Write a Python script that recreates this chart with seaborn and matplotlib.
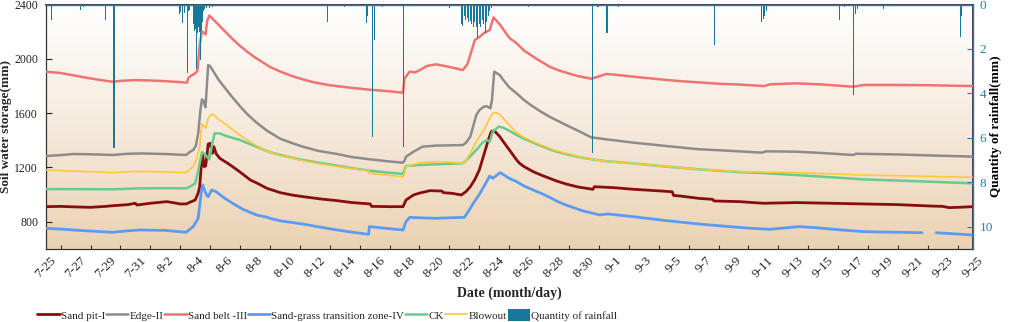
import numpy as np
import pandas as pd
import seaborn as sns
import matplotlib.pyplot as plt
from matplotlib.lines import Line2D
from matplotlib.patches import Patch
from matplotlib.colors import LinearSegmentedColormap

# day offset from 7-25 00:00
tick_labels = ['7-25', '7-27', '7-29', '7-31', '8-2', '8-4', '8-6', '8-8', '8-10', '8-12',
               '8-14', '8-16', '8-18', '8-20', '8-22', '8-24', '8-26', '8-28', '8-30', '9-1',
               '9-3', '9-5', '9-7', '9-9', '9-11', '9-13', '9-15', '9-17', '9-19', '9-21',
               '9-23', '9-25']

pit_day = [0, 1, 2, 3, 4, 4.5, 5.5, 6.0, 6.1, 7, 8.1, 8.5, 9.0, 9.4, 9.7, 10.0, 10.2, 10.3, 10.4, 10.5,
           10.6, 10.7, 10.8, 10.87, 11.0, 11.15, 11.25, 11.4, 11.65, 12.1, 12.5, 13.0, 13.7, 14.2, 14.8,
           15.7, 16.5, 17.2, 18.3, 19.5, 20.5, 21.7, 21.8, 23.0, 23.9, 24.1, 24.6, 25.0, 25.7, 26.5, 26.6,
           27.2, 27.8, 28.1, 28.4, 28.7, 29.0, 29.3, 29.6, 29.8, 30.0, 30.37, 30.6, 31.0, 31.5, 31.7, 32.0,
           32.6, 33.2, 33.7, 34.2, 34.8, 35.6, 36.6, 36.7, 38.0, 39.3, 40.5, 41.9, 42.0, 42.4, 43.7, 44.6,
           44.7, 46.4, 48.0, 50.2, 52.5, 54.7, 57, 59.1, 60.0, 60.4, 61.0, 62]
pit_val = [910, 912, 908, 905, 912, 917, 925, 935, 922, 935, 947, 940, 930, 930, 945, 959, 1010, 1057, 1200, 1291,
           1205, 1210, 1300, 1372, 1377, 1303, 1352, 1300, 1266, 1235, 1205, 1165, 1106, 1080, 1045,
           1013, 995, 984, 968, 954, 940, 930, 912, 910, 910, 959, 996, 1010, 1028, 1025, 1013,
           1008, 996, 1020, 1057, 1110, 1180, 1290, 1401, 1463, 1470, 1426, 1390, 1330, 1254, 1229, 1205,
           1168, 1140, 1119, 1098, 1077, 1055, 1038, 1057, 1050, 1038, 1030, 1020, 992, 989, 971, 964,
           952, 947, 935, 940, 935, 930, 925, 915, 912, 903, 905, 910]

edge_day = [0, 1, 1.85, 3, 4.5, 5.5, 6.5, 8, 9.4, 9.6, 9.87, 10.05, 10.2, 10.35, 10.45, 10.55, 10.69, 10.78,
            10.87, 11.0, 11.2, 11.6, 12.1, 12.5, 13.0, 13.5, 14.1, 14.8, 15.7, 16.5, 17.2, 18.2, 19.5, 20.5,
            21.7, 22.8, 23.9, 24.0, 24.1, 24.6, 25.2, 26.1, 27.0, 27.9, 28.1, 28.4, 28.8, 29.0, 29.3, 29.5,
            29.75, 29.85, 30.0, 30.37, 30.6, 31.0, 31.5, 32.0, 32.6, 33.2, 33.7, 34.2, 34.8, 35.6, 36.5, 37.0,
            37.5, 39.3, 41.5, 43.7, 45.7, 47.9, 48.2, 50.2, 52, 54.0, 54.2, 56.9, 59, 62]
edge_val = [1283, 1290, 1298, 1296, 1291, 1300, 1302, 1298, 1291, 1310, 1328, 1360, 1450, 1620, 1700, 1690, 1642, 1800,
            1954, 1945, 1910, 1840, 1770, 1715, 1650, 1590, 1530, 1470, 1410, 1378, 1352, 1322, 1298, 1275,
            1259, 1245, 1234, 1250, 1278, 1315, 1352, 1360, 1362, 1364, 1380, 1426, 1586, 1620, 1647, 1650,
            1635, 1700, 1905, 1880, 1845, 1790, 1745, 1695, 1647, 1605, 1573, 1545, 1512, 1470, 1420, 1414,
            1406, 1382, 1357, 1333, 1322, 1308, 1318, 1315, 1305, 1291, 1300, 1295, 1288, 1279]

belt_day = [0, 1, 2, 3, 4, 4.5, 5, 6, 7, 8, 9, 9.45, 9.55, 9.8, 10.0, 10.15, 10.3, 10.45, 10.6, 10.7, 10.8,
            10.95, 11.3, 11.7, 12.1, 12.6, 13.0, 13.5, 14.0, 14.5, 15.0, 15.7, 16.5, 17.2, 18.0, 19.0, 20.5,
            21.7, 23.0, 23.9, 24.0, 24.35, 24.7, 25.0, 25.5, 26.1, 27.0, 27.9, 28.2, 28.4, 28.7, 29.0, 29.3,
            29.7, 29.8, 29.95, 30.4, 31.0, 31.5, 32.0, 32.6, 33.2, 33.7, 34.3, 34.8, 35.6, 36.5, 37.0, 37.5,
            38.3, 39.3, 40.4, 41.5, 42.6, 43.7, 45.0, 46.4, 48.0, 48.5, 50.2, 52.0, 54.0, 54.7, 56.9, 59.0, 62]
belt_val = [1905, 1895, 1875, 1855, 1838, 1831, 1837, 1843, 1840, 1835, 1828, 1824, 1860, 1880, 1893, 1910, 2100,
            2200, 2190, 2180, 2280, 2318, 2280, 2235, 2190, 2135, 2095, 2050, 2010, 1975, 1940, 1905, 1872,
            1848, 1825, 1805, 1785, 1772, 1760, 1750, 1856, 1905, 1900, 1915, 1947, 1959, 1940, 1917, 1960,
            2028, 2138, 2160, 2188, 2212, 2250, 2305, 2249, 2155, 2114, 2060, 2016, 1975, 1942, 1915, 1898,
            1872, 1853, 1870, 1888, 1880, 1868, 1856, 1844, 1834, 1826, 1816, 1810, 1799, 1812, 1819, 1810,
            1794, 1807, 1807, 1805, 1799]

grass_day = [0, 1, 1.85, 3, 4.5, 5.5, 6.3, 8, 9.4, 9.6, 9.87, 10.2, 10.4, 10.5, 10.6, 10.76, 10.87, 11.1, 11.4,
             12.0, 12.5, 13.2, 14.1, 14.8, 15.0, 15.7, 16.5, 17.2, 18.3, 19.5, 20.5, 21.6, 21.65, 22.8, 23.9,
             24.1, 24.35, 25.0, 26.1, 27.0, 28.0, 28.3, 28.6, 29.0, 29.3, 29.7, 29.9, 30.4, 31.0, 31.5, 32.0,
             32.6, 33.2, 33.7, 34.2, 34.8, 35.9, 37.05, 37.6, 39.3, 41.5, 43.7, 45.7, 47.0, 48.4, 50.4, 51.5,
             53, 54.7, 56.5, 58.6, 59.0, 59.56, 61, 62]
grass_val = [750, 745, 738, 730, 721, 732, 738, 735, 721, 740, 763, 824, 1008, 1070, 1040, 996, 984, 1033, 1020,
             970, 935, 890, 849, 832, 824, 805, 793, 782, 760, 738, 722, 706, 763, 750, 738,
             800, 831, 828, 824, 828, 831, 880, 935, 1000, 1057, 1136, 1119, 1161, 1119, 1094, 1062,
             1033, 1005, 979, 950, 922, 880, 849, 856, 836, 807, 782, 763, 752, 743, 763, 755,
             740, 726, 722, 718, np.nan, 718, 708, 701]

ck_day = [0, 2, 4.5, 6.3, 8, 9.4, 9.7, 10.0, 10.2, 10.3, 10.45, 10.55, 10.7, 10.94, 11.05, 11.15, 11.3, 11.65,
          12.1, 13.0, 14.1, 15.0, 15.7, 16.5, 17.2, 18.2, 19.5, 20.5, 21.7, 22.8, 23.9, 24.1, 25.0, 26.1,
          27.0, 27.9, 28.3, 28.8, 29.2, 29.5, 29.7, 29.9, 30.3, 30.6, 31.0, 31.5, 32.0, 32.6, 33.2, 33.7,
          34.2, 34.8, 35.6, 36.5, 37.5, 39.3, 41.5, 43.7, 46.4, 48, 50.2, 52.5, 54.7, 57, 59.1, 62]
ck_val = [1040, 1039, 1038, 1045, 1046, 1045, 1060, 1082, 1170, 1229, 1310, 1305, 1291, 1259, 1320, 1380, 1450, 1450,
          1430, 1401, 1352, 1312, 1290, 1270, 1254, 1235, 1212, 1193, 1175, 1162, 1151, 1210, 1217, 1222,
          1226, 1229, 1270, 1328, 1380, 1401, 1389, 1463, 1500, 1492, 1470, 1438, 1410, 1382, 1355, 1333,
          1315, 1298, 1278, 1259, 1245, 1229, 1205, 1185, 1165, 1158, 1143, 1127, 1111, 1102, 1094, 1082]

blow_day = [0, 2, 4.5, 6, 8, 9.4, 9.6, 9.87, 10.1, 10.3, 10.45, 10.55, 10.7, 10.87, 11.1, 11.2, 11.6, 12.1,
            12.6, 13.0, 13.5, 14.1, 14.8, 15.7, 16.5, 17.2, 18.2, 19.5, 20.5, 21.6, 21.62, 22.8, 23.9, 24.0,
            24.1, 25.0, 26.1, 27.0, 27.9, 28.1, 28.4, 28.8, 29.3, 29.6, 29.9, 30.1, 30.37, 31.0, 31.5, 32.0,
            32.6, 33.2, 33.7, 34.2, 34.8, 35.6, 36.5, 37.5, 39.3, 41.5, 43.7, 46.4, 48, 50.2, 52.5, 54.7,
            57, 59.5, 62]
blow_val = [1180, 1172, 1161, 1170, 1166, 1161, 1180, 1205, 1260, 1352, 1519, 1510, 1487, 1561, 1593, 1590, 1550, 1512,
            1470, 1438, 1400, 1360, 1320, 1285, 1268, 1249, 1228, 1205, 1190, 1175, 1156, 1143, 1131, 1160,
            1205, 1234, 1242, 1238, 1229, 1250, 1303, 1390, 1475, 1540, 1598, 1603, 1590, 1512, 1455, 1420,
            1389, 1362, 1340, 1320, 1303, 1280, 1259, 1245, 1229, 1205, 1185, 1168, 1165, 1161, 1152, 1143,
            1138, 1132, 1126]

rain_day = [0.40, 2.3, 2.5, 4.0, 4.57, 8.94, 9.02, 9.16, 9.31, 9.47, 9.55, 9.65,
            9.87, 9.95, 10.03, 10.09, 10.16, 10.23, 10.29, 10.36, 10.43, 10.5, 10.56, 10.65, 10.78, 10.98, 11.18,
            18.87, 20.0, 21.45, 21.55, 21.85, 22.0, 22.5, 23.9, 27.0,
            27.8, 27.9, 28.0, 28.1, 28.2, 28.3, 28.4, 28.5, 28.6, 28.7, 28.8, 28.9, 29.0, 29.1, 29.2, 29.3,
            29.4, 29.5, 29.6, 29.7, 29.8,
            32.3, 36.56, 36.9, 37.0, 37.54, 38.3, 44.74, 47.9, 48.0, 48.1, 48.2,
            53.1, 53.4, 54.03, 54.15, 54.3, 56.04, 61.16, 61.25]
rain_mm = [0.7, 0.25, 0.1, 0.7, 6.48, 0.45, 0.35, 0.85, 0.4, 3.1, 0.3, 0.25,
           0.9, 1.2, 1.1, 2.9, 1.3, 1.0, 1.25, 2.5, 1.2, 0.8, 0.3, 0.2, 0.15, 0.15, 0.1,
           0.8, 0.1, 0.85, 0.5, 5.95, 1.6, 0.1, 6.4, 0.17,
           0.9, 0.95, 0.5, 0.7, 0.6, 0.8, 0.75, 0.9, 1.0, 0.8, 1.0, 1.5, 0.9, 1.0, 0.7, 0.9,
           1.3, 0.8, 0.5, 0.3, 0.15,
           0.1, 6.7, 0.12, 0.1, 1.3, 0.1, 1.82, 0.8, 0.65, 0.5, 0.3,
           0.7, 0.1, 4.08, 0.45, 0.2, 0.2, 1.45, 0.5]

series = [
    ('Sand pit-I', pit_day, pit_val, '#870E0E', 2.0),
    ('Edge-II', edge_day, edge_val, '#8C8C8C', 1.8),
    ('Sand belt -III', belt_day, belt_val, '#F07272', 1.8),
    ('Sand-grass transition zone-IV', grass_day, grass_val, '#5C9CF0', 2.0),
    ('CK', ck_day, ck_val, '#66CC8A', 1.8),
    ('Blowout', blow_day, blow_val, '#FFC83A', 1.2),
]
RAIN_C = '#17789B'
AXIS_C = '#2A7F9C'

sns.set_theme(style='ticks')
plt.rcParams['font.family'] = ['Liberation Serif', 'DejaVu Serif']

fig = plt.figure(figsize=(10.1, 3.22), dpi=100)
ax = fig.add_axes([0.0452, 0.2276, 0.9179, 0.7584])

# background gradient
bg = LinearSegmentedColormap.from_list('bg', ['#EBD2B3', '#F6EADD', '#FFFFFF'])
ax.imshow(np.linspace(0, 1, 256).reshape(-1, 1), extent=[0, 62, 600, 2400], origin='lower',
          aspect='auto', cmap=bg, zorder=0)

for name, d, v, c, lw in series:
    df = pd.DataFrame({'day': d, 'val': v})
    seg = df['val'].isna().cumsum()
    for _, part in df.dropna().groupby(seg[df['val'].notna()]):
        sns.lineplot(data=part, x='day', y='val', ax=ax, color=c, linewidth=lw, zorder=3)

ax.set_xlim(0, 62)
ax.set_ylim(600, 2400)
ax.set_xticks(np.arange(0, 63, 2))
ax.set_xticklabels(tick_labels, rotation=45, ha='center', fontsize=9.5)
ax.set_xticks(np.arange(1, 62, 2), minor=True)
ax.tick_params(axis='x', which='major', length=0, pad=4)
ax.tick_params(axis='x', which='minor', length=3, direction='in', width=0.8, color='#333333')
ax.set_yticks([800, 1200, 1600, 2000, 2400])
ax.tick_params(axis='y', direction='in', length=4, width=0.8, labelsize=8.5, pad=5.5, colors='#222222')
ax.set_xlabel('Date (month/day)', fontsize=10, fontweight='bold', labelpad=5)
ax.set_ylabel('Soil water storage(mm)', fontsize=9.5, fontweight='bold')
ax.yaxis.set_label_coords(-0.0365, 0.5)
for s in ['left', 'bottom']:
    ax.spines[s].set_color('#333333')
    ax.spines[s].set_linewidth(0.9)

ax2 = ax.twinx()
ax2.bar(rain_day, rain_mm, width=0.07, color=RAIN_C, linewidth=0, zorder=2)
ax2.set_ylim(11, 0)
ax2.set_yticks([0, 2, 4, 6, 8, 10])
ax2.tick_params(axis='y', direction='in', length=4, width=0.8, labelsize=9.5, pad=5,
                colors=AXIS_C)
ax2.set_ylabel('Quantity of rainfall(mm)', fontsize=9.5, fontweight='bold', color='black')
ax2.yaxis.set_label_coords(1.0185, 0.5)
ax2.spines['right'].set_color(AXIS_C)
ax2.spines['top'].set_color(AXIS_C)
ax2.spines['left'].set_visible(False)
ax2.spines['bottom'].set_visible(False)
for s in ['right', 'top']:
    ax2.spines[s].set_linewidth(1.0)

handles = [Line2D([], [], color=c, linewidth=lw) for _, _, _, c, lw in series]
handles.append(Patch(facecolor=RAIN_C, edgecolor='none'))
labels = [s[0] for s in series] + ['Quantity of rainfall']
fig.legend(handles, labels, loc='center', bbox_to_anchor=(0.324, 1 - 315 / 322), ncol=7,
           frameon=False, fontsize=8, handlelength=2.0, handleheight=1.3,
           handletextpad=0.1, columnspacing=0.1, borderaxespad=0)

fig.savefig('out.png', dpi=100)
